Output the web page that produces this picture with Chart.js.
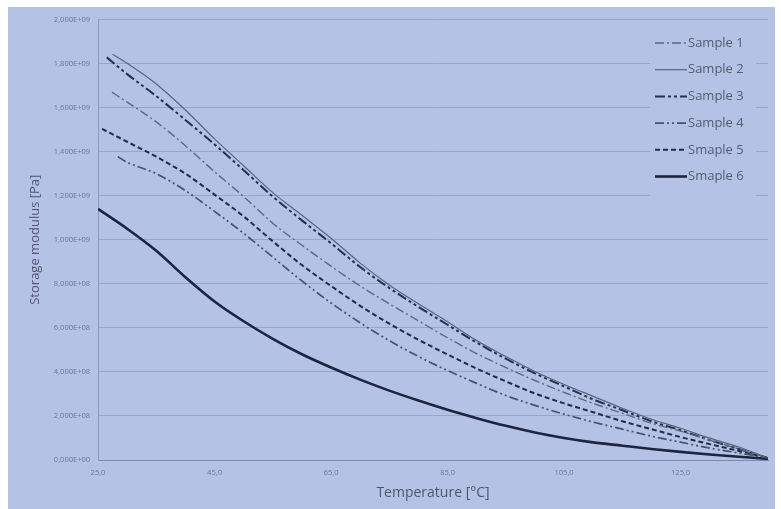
<!DOCTYPE html>
<html>
<head>
<meta charset="utf-8">
<script src="https://cdn.jsdelivr.net/npm/chart.js@4/dist/chart.umd.min.js"></script>
<style>
  body { margin: 0; background: #fff; }
  #wrap { position: absolute; left: 8px; top: 7px; width: 767px; height: 502px; background: #b4c2e6; }
</style>
</head>
<body>
<div id="wrap"><canvas id="modulus"></canvas></div>
<script>
// temperatures shared by every curve after its first point [°C]
var temps = [30, 35, 40, 45, 50, 55, 60, 65, 70, 75, 80, 85, 90, 95, 100, 105, 110, 115, 120, 125, 130, 135, 140];

var labels = ["Sample 1", "Sample 2", "Sample 3", "Sample 4", "Smaple 5", "Smaple 6"];

// first measured temperature of each sample
var startTemps = [27.4, 27.5, 26.5, 28.4, 25.7, 25.0];

// storage modulus, in 1e9 Pa (first value belongs to startTemps)
var sample1 = [1.670, 1.625, 1.535, 1.427, 1.309, 1.196, 1.075, 0.975, 0.880, 0.790, 0.709, 0.632, 0.555, 0.483, 0.420, 0.361, 0.307, 0.257, 0.212, 0.167, 0.131, 0.090, 0.050, 0.009];
var sample2 = [1.842, 1.801, 1.707, 1.589, 1.458, 1.336, 1.214, 1.111, 1.007, 0.894, 0.795, 0.709, 0.628, 0.542, 0.470, 0.402, 0.343, 0.289, 0.235, 0.185, 0.144, 0.099, 0.059, 0.009];
var sample3 = [1.828, 1.752, 1.652, 1.544, 1.433, 1.316, 1.196, 1.088, 0.984, 0.876, 0.781, 0.695, 0.614, 0.533, 0.460, 0.393, 0.334, 0.275, 0.226, 0.176, 0.135, 0.090, 0.050, 0.009];
var sample4 = [1.377, 1.352, 1.300, 1.223, 1.129, 1.029, 0.921, 0.813, 0.713, 0.623, 0.542, 0.470, 0.406, 0.348, 0.293, 0.248, 0.208, 0.172, 0.140, 0.108, 0.081, 0.054, 0.032, 0.009];
var sample5 = [1.503, 1.445, 1.377, 1.300, 1.205, 1.106, 0.993, 0.885, 0.790, 0.700, 0.619, 0.546, 0.479, 0.415, 0.357, 0.302, 0.257, 0.217, 0.176, 0.140, 0.104, 0.072, 0.041, 0.009];
var sample6 = [1.140, 1.050, 0.950, 0.830, 0.720, 0.630, 0.550, 0.480, 0.420, 0.365, 0.315, 0.270, 0.228, 0.190, 0.155, 0.125, 0.100, 0.080, 0.065, 0.050, 0.037, 0.025, 0.015, 0.005];

var xTicks = [25, 45, 65, 85, 105, 125];

function toPoints(i, vals) {
  return vals.map(function(v, k) {
    return { x: k === 0 ? startTemps[i] : temps[k - 1], y: v * 1e9 };
  });
}

function sci(v) {
  var s = v.toExponential(3).replace('.', ',');
  var m = s.match(/e([+-])(\d+)/);
  var exp = m[2].length < 2 ? '0' + m[2] : m[2];
  return s.replace(/e[+-]\d+/, 'E' + m[1] + exp);
}

var styles = [
  { color: '#5d6884', width: 1.4, dash: [9, 3, 2, 3] },
  { color: '#5a6481', width: 1.2, dash: [] },
  { color: '#26304c', width: 2,   dash: [10, 3, 3, 3, 3, 3] },
  { color: '#48526e', width: 1.7, dash: [9, 3, 2, 3, 2, 3] },
  { color: '#222b45', width: 2,   dash: [5, 3] },
  { color: '#1c2440', width: 2.6, dash: [] }
];

var series = [sample1, sample2, sample3, sample4, sample5, sample6];

var datasets = series.map(function(vals, i) {
  return {
    label: labels[i],
    data: toPoints(i, vals),
    borderColor: styles[i].color,
    borderWidth: styles[i].width,
    borderDash: styles[i].dash,
    pointRadius: 0,
    fill: false,
    cubicInterpolationMode: 'monotone'
  };
});

// legend drawn inside the plot, like the excel one
var insideLegend = {
  id: 'insideLegend',
  afterDatasetsDraw: function(chart) {
    var ctx = chart.ctx;
    ctx.save();
    ctx.fillStyle = '#b4c2e6';
    ctx.fillRect(642, 23, 106, 168);
    chart.data.datasets.forEach(function(ds, i) {
      var y = 36 + i * 26.7;
      ctx.beginPath();
      ctx.strokeStyle = ds.borderColor;
      ctx.lineWidth = ds.borderWidth;
      ctx.setLineDash(ds.borderDash);
      ctx.moveTo(647, y);
      ctx.lineTo(679, y);
      ctx.stroke();
      ctx.setLineDash([]);
      ctx.fillStyle = '#555d70';
      ctx.font = '13px "Open Sans"';
      ctx.textBaseline = 'middle';
      ctx.fillText(ds.label, 680, y);
    });
    ctx.restore();
  }
};

var chart = new Chart(document.getElementById('modulus'), {
  type: 'line',
  data: { datasets: datasets },
  plugins: [insideLegend],
  options: {
    responsive: true,
    maintainAspectRatio: false,
    animation: false,
    layout: { padding: { top: 10, right: 7, left: 0, bottom: 0 } },
    plugins: {
      legend: { display: false },
      tooltip: { enabled: false }
    },
    scales: {
      x: {
        type: 'linear',
        min: 25,
        max: 140,
        afterBuildTicks: function(s) { s.ticks = xTicks.map(function(v) { return { value: v }; }); },
        afterFit: function(s) { s.height = 49; },
        grid: { display: false, drawTicks: false },
        border: { display: true, color: '#7d89ad', width: 1 },
        ticks: {
          padding: 8,
          color: '#6e7690',
          font: { family: 'Open Sans', size: 7.5 },
          callback: function(v) { return v.toFixed(1).replace('.', ','); }
        },
        title: {
          display: true,
          text: 'Temperature [°C]',
          color: '#4e566c',
          font: { family: 'Open Sans', size: 14 },
          padding: { top: 0, bottom: 8 }
        }
      },
      y: {
        min: 0,
        max: 2e9,
        afterFit: function(s) { s.width = 90; },
        ticks: {
          stepSize: 2e8,
          padding: 8,
          color: '#6e7690',
          font: { family: 'Open Sans', size: 7.5 },
          callback: function(v) { return sci(v); }
        },
        grid: { color: '#97a5cf', lineWidth: 1, drawTicks: false },
        border: { display: true, color: '#8e9abd', width: 1 },
        title: {
          display: true,
          text: 'Storage modulus [Pa]',
          color: '#4e566c',
          font: { family: 'Open Sans', size: 13 },
          padding: { top: 19, bottom: 0 }
        }
      }
    }
  }
});
</script>
</body>
</html>
